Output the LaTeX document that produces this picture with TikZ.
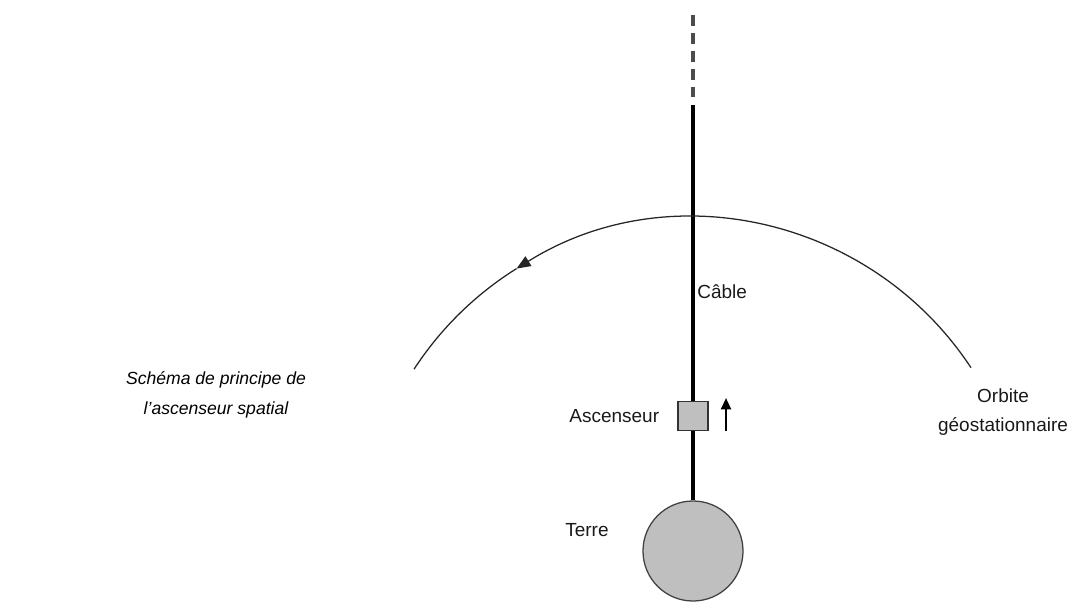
\documentclass[tikz,border=0pt]{standalone}
\usepackage{fontspec}
\setmainfont{Liberation Sans}
\usetikzlibrary{arrows.meta,positioning}
\begin{document}
\begin{tikzpicture}[x=0.025cm,y=0.025cm,lbl/.style={font=\fontsize{13.5}{20.5}\selectfont, inner sep=0pt, text=black!90},cable/.style={line width=2.6pt, black},ball/.style={circle, draw=black!75, line width=0.9pt, fill=gray!50, inner sep=0pt},orbit/.style={line width=0.9pt, black!85}]
\useasboundingbox (0,0) rectangle (1069,601);
\node[ball, minimum size=2.5cm] (earth) at (693,50) {};
\node[draw=black!80, line width=0.9pt, fill=gray!50, minimum width=0.75cm, minimum height=0.725cm, inner sep=0pt] (cabin) at (693,185) {};
\coordinate (cabletop) at (693,496);
\coordinate (dashtop) at (693,586);
\draw[cable] (earth.north) -- (cabin.south);
\draw[cable] (cabin.north) -- (cabletop);
\draw[cable, line width=2.2pt, black!70, dash pattern=on 7.5pt off 5.3pt] (dashtop) -- ++(0,-82);
\coordinate (upfoot) at (726,170);
\draw[-{Triangle[length=8pt,width=7pt]}, line width=1.6pt] (upfoot) -- ++(0,33);
\draw[orbit, -{Triangle[length=10pt,width=8pt]}] (693,50) ++(33.4:333) arc[start angle=33.4, end angle=122, radius=333];
\draw[orbit] (693,50) ++(122:333) arc[start angle=122, end angle=146.9, radius=333];
\node[lbl, left=0.45cm of cabin] (lift) {Ascenseur};
\node[lbl, anchor=west] (earthlbl) at (565,71) {Terre};
\node[lbl, anchor=west] (cablelbl) at (697,309) {Câble};
\node[lbl, align=center] (orbitlbl) at (1003,189) {Orbite\\géostationnaire};
\node[font=\itshape\fontsize{12.5}{21.3}\selectfont, align=center] (caption) at (216,206) {Schéma de principe de\\l’ascenseur spatial};
\end{tikzpicture}
\end{document}
